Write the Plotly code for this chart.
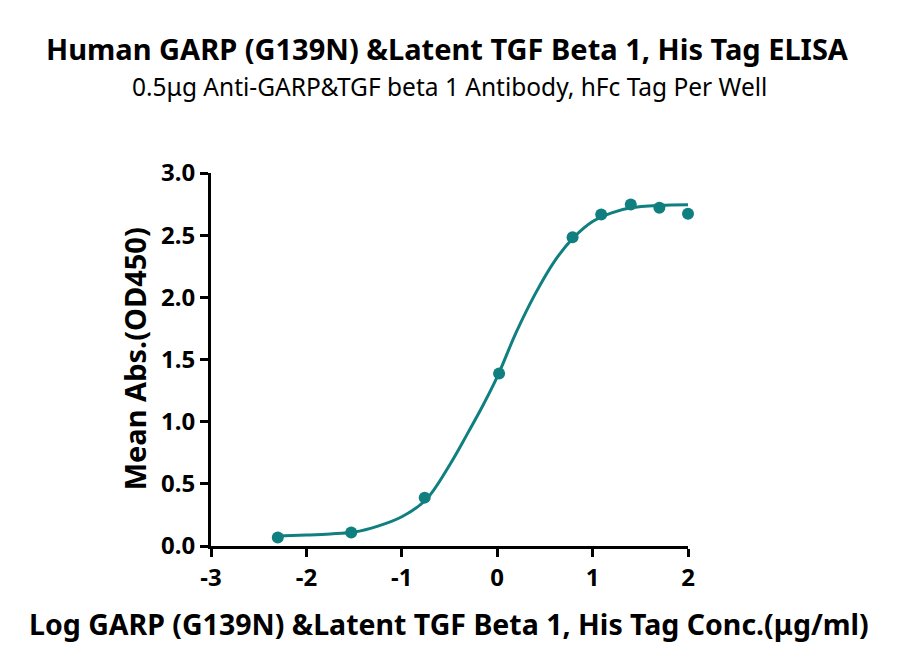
import plotly.graph_objects as go

# measured points (log conc. vs mean OD450)
log_conc = [-2.30, -1.53, -0.76, 0.02, 0.79, 1.09, 1.40, 1.70, 2.00]
mean_abs = [0.068, 0.108, 0.389, 1.388, 2.484, 2.666, 2.747, 2.720, 2.672]

# fitted curve
fit_x = [-2.30, -2.0, -1.75, -1.5, -1.25, -1.0, -0.75, -0.5, -0.3, -0.15,
         0.0, 0.2, 0.4, 0.6, 0.8, 1.0, 1.2, 1.4, 1.7, 2.0]
fit_y = [0.080, 0.088, 0.097, 0.112, 0.160, 0.235, 0.370, 0.650, 0.920, 1.130,
         1.360, 1.720, 2.030, 2.290, 2.480, 2.610, 2.680, 2.720, 2.740, 2.745]

x_ticks = [-3, -2, -1, 0, 1, 2]
x_labels = ["-3", "-2", "-1", "0", "1", "2"]
y_ticks = [0.0, 0.5, 1.0, 1.5, 2.0, 2.5, 3.0]

teal = "#0f7f80"
font = "Noto Sans"

fig = go.Figure()

fig.add_trace(go.Scatter(
    x=fit_x, y=fit_y, mode="lines", line=dict(color=teal, width=3, shape="spline"),
    cliponaxis=False, showlegend=False, hoverinfo="skip"
))

fig.add_trace(go.Scatter(
    x=log_conc, y=mean_abs, mode="markers", marker=dict(color=teal, size=12),
    cliponaxis=False, showlegend=False
))

axis_common = dict(
    showline=True, linecolor="black", linewidth=3, ticks="outside",
    ticklen=8, tickwidth=3, tickcolor="black", showgrid=False, zeroline=False,
    tickfont=dict(family=font, size=24, color="black", weight="bold"),
)

# titles placed as annotations (paper coords)
texts = [
    ("<b>Human GARP (G139N) &Latent TGF Beta 1, His Tag ELISA</b>", 0.496, 1.335, 29, 0),
    ("0.5μg Anti-GARP&TGF beta 1 Antibody, hFc Tag Per Well", 0.50, 1.233, 24.5, 0),
    ("<b>Log GARP (G139N) &Latent TGF Beta 1, His Tag Conc.(μg/ml)</b>", 0.499, -0.209, 28.5, 0),
    ("<b>Mean Abs.(OD450)</b>", -0.1615, 0.503, 29, -90),
]
for txt, ax, ay, size, ang in texts:
    fig.add_annotation(
        text=txt, x=ax, y=ay, xref="paper", yref="paper", showarrow=False,
        xanchor="center", yanchor="middle", textangle=ang,
        font=dict(family=font, size=size, color="black"),
    )

fig.update_layout(
    width=900, height=671,
    margin=dict(l=203, r=220, t=165, b=133),
    paper_bgcolor="white", plot_bgcolor="white",
    xaxis=dict(range=[-3, 2], tickvals=x_ticks, ticktext=x_labels, **axis_common),
    yaxis=dict(range=[0, 3], tickvals=y_ticks, tickformat=".1f", **axis_common),
)

fig.write_html("out.html")
